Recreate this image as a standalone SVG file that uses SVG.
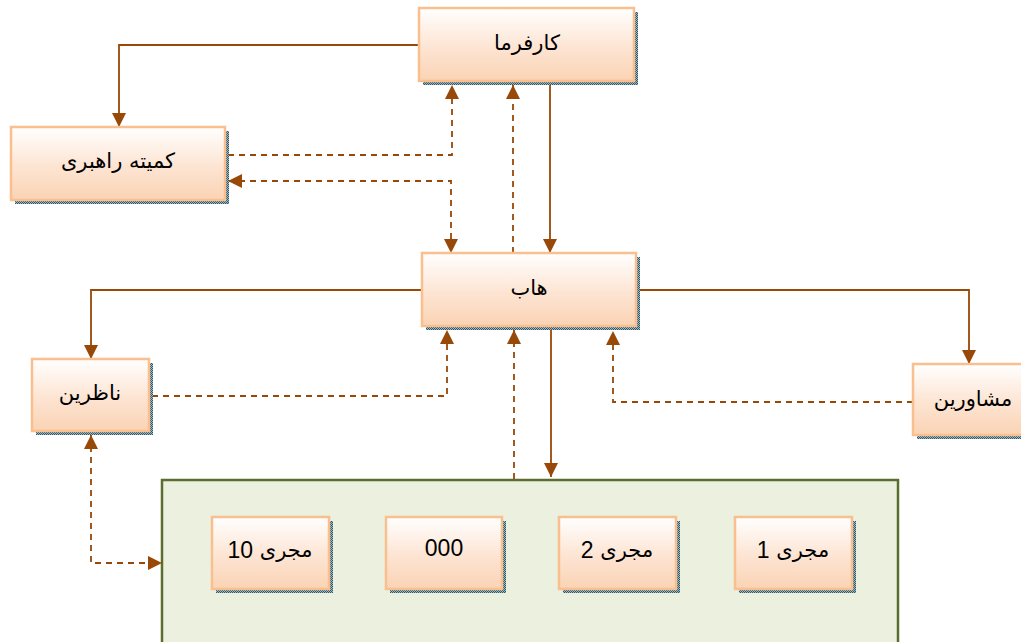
<svg xmlns="http://www.w3.org/2000/svg" width="1021" height="642" viewBox="0 0 1021 642">
<defs>
<linearGradient id="g" x1="0" y1="0" x2="0" y2="1">
<stop offset="0" stop-color="#ffffff"/>
<stop offset="0.55" stop-color="#fde4d2"/>
<stop offset="1" stop-color="#fad3b4"/>
</linearGradient>
<pattern id="sh" width="2" height="2" patternUnits="userSpaceOnUse">
<rect width="2" height="2" fill="#9fb9c0"/>
<rect width="1" height="1" fill="#2f5666"/>
<rect x="1" y="1" width="1" height="1" fill="#2f5666"/>
</pattern>
<marker id="a" viewBox="0 0 14 14" refX="14" refY="7" markerWidth="14" markerHeight="14" markerUnits="userSpaceOnUse" orient="auto">
<path d="M0,0 L14,7 L0,14 Z" fill="#984807"/>
</marker>
<marker id="as" viewBox="0 0 14 14" refX="0" refY="7" markerWidth="14" markerHeight="14" markerUnits="userSpaceOnUse" orient="auto">
<path d="M14,0 L0,7 L14,14 Z" fill="#984807"/>
</marker>
</defs>
<style>
.sh{fill:url(#sh)}
.bx{fill:url(#g);stroke:#fabf8f;stroke-width:2.5}
.t{font-family:"DejaVu Sans",sans-serif;font-size:21px;fill:#000;text-anchor:middle;dominant-baseline:central}
.n{font-family:"Liberation Sans","DejaVu Sans",sans-serif;font-size:23px}
.s{fill:none;stroke:#984807;stroke-width:1.8}
.d{fill:none;stroke:#984807;stroke-width:1.8;stroke-dasharray:6,5}
</style>
<rect width="1021" height="642" fill="#ffffff"/>
<g id="container">
<rect x="162" y="480" width="736" height="170" fill="#ebf1de" stroke="#5a6e2e" stroke-width="2.5"/>
</g>
<g id="connectors">
<path class="s" d="M419,45 H119 V127" marker-end="url(#a)"/>
<path class="d" d="M228,155 H452 V85" marker-end="url(#a)"/>
<path class="d" d="M228,181 H451 V253" marker-start="url(#as)" marker-end="url(#a)"/>
<path class="d" d="M513,253 V85" marker-end="url(#a)"/>
<path class="s" d="M550,84 V253" marker-end="url(#a)"/>
<path class="s" d="M422,290 H91 V359" marker-end="url(#a)"/>
<path class="s" d="M637,290 H969 V364" marker-end="url(#a)"/>
<path class="d" d="M152,396 H447 V330" marker-end="url(#a)"/>
<path class="d" d="M514,479 V330" marker-end="url(#a)"/>
<path class="s" d="M551,330 V477" marker-end="url(#a)"/>
<path class="d" d="M913,402 H613 V331" marker-end="url(#a)"/>
<path class="d" d="M91,435 V563 H162" marker-start="url(#as)" marker-end="url(#a)"/>
</g>
<g id="karfarma">
<rect class="sh" x="423" y="12" width="215" height="73"/>
<rect class="bx" x="419" y="8" width="215" height="73"/>
<text class="t" x="527" y="43" direction="rtl">کارفرما</text>
</g>
<g id="komite">
<rect class="sh" x="15" y="131" width="214" height="73"/>
<rect class="bx" x="11" y="127" width="214" height="73"/>
<text class="t" x="118" y="161" direction="rtl">کمیته راهبری</text>
</g>
<g id="hub">
<rect class="sh" x="426" y="257" width="214" height="73"/>
<rect class="bx" x="422" y="253" width="214" height="73"/>
<text class="t" x="529" y="288" direction="rtl">هاب</text>
</g>
<g id="nazerin">
<rect class="sh" x="36" y="363" width="117" height="72"/>
<rect class="bx" x="32" y="359" width="117" height="72"/>
<text class="t" x="90" y="393" direction="rtl">ناظرین</text>
</g>
<g id="moshaverin">
<rect class="sh" x="917" y="368" width="120" height="71"/>
<rect class="bx" x="913" y="364" width="120" height="71"/>
<text class="t" x="973" y="399" direction="rtl">مشاورین</text>
</g>
<g id="mojari10">
<rect class="sh" x="216" y="521" width="117" height="72"/>
<rect class="bx" x="212" y="517" width="117" height="72"/>
<text class="t" x="270" y="550" direction="rtl">مجری <tspan class="n">10</tspan></text>
</g>
<g id="n000">
<rect class="sh" x="390" y="521" width="116" height="72"/>
<rect class="bx" x="386" y="517" width="116" height="72"/>
<text class="t n" x="444" y="548">000</text>
</g>
<g id="mojari2">
<rect class="sh" x="563" y="521" width="117" height="72"/>
<rect class="bx" x="559" y="517" width="117" height="72"/>
<text class="t" x="617" y="550" direction="rtl">مجری <tspan class="n">2</tspan></text>
</g>
<g id="mojari1">
<rect class="sh" x="739" y="521" width="117" height="72"/>
<rect class="bx" x="735" y="517" width="117" height="72"/>
<text class="t" x="793" y="550" direction="rtl">مجری <tspan class="n">1</tspan></text>
</g>
</svg>
